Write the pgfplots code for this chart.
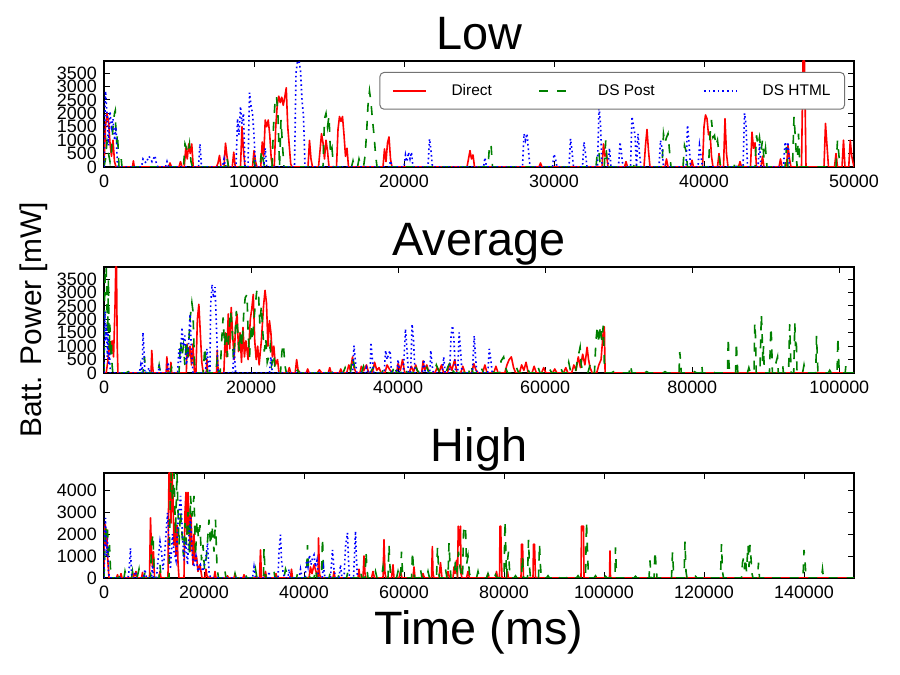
\documentclass[border=0pt]{standalone}
\usepackage{fontspec}
\setmainfont{Liberation Sans}
\usepackage{pgfplots}
\pgfplotsset{compat=1.18}
\definecolor{mplgreen}{rgb}{0,0.5,0}
\pgfplotsset{
  myax/.style={
    scale only axis, width=750bp,
    axis line style={line width=1.3bp},
    tick style={black, line width=1bp},
    major tick length=6bp,
    tick align=inside,
    xtick pos=both, ytick pos=both,
    xticklabel pos=lower, yticklabel pos=left,
    xmin=0, ymin=0,
    scaled ticks=false,
    /pgf/number format/assume math mode=true,
    /pgf/number format/1000 sep={},
    /pgf/number format/fixed,
    ticklabel style={font=\fontsize{18}{18}\selectfont},
    xticklabel style={anchor=base, yshift=-21bp, inner sep=0pt},
    yticklabel style={anchor=east, xshift=-7bp, inner sep=0pt},
    title style={font=\fontsize{47}{47}\selectfont, at={(0.5,1)}, anchor=base, yshift=5.5bp, inner sep=0pt},
    legend image code/.code={\draw[#1] plot coordinates {(0bp,0bp)(33bp,0bp)};},
  },
  red/.style={color=red, line width=1.6bp, solid, line join=round},
  grn/.style={color=mplgreen, line width=1.6bp, dash pattern=on 9bp off 9bp},
  blu/.style={color=blue, line width=1.6bp, dash pattern=on 1.6bp off 3bp},
}
\begin{document}
\begin{tikzpicture}
\useasboundingbox (0,0) rectangle (900bp,675bp);
% ---------------- Low ----------------
\begin{axis}[myax, at={(104bp,508bp)}, anchor=south west, height=106bp,
  title={Low}, xmax=50000, ymax=3950,
  xtick={0,10000,...,50000}, ytick={0,500,...,3500},
  legend columns=3, legend cell align=left,
  legend style={at={(rel axis cs:1,1)}, anchor=north east, xshift=-9bp, yshift=-11bp,
    draw=black!55, rounded corners=4bp, line width=1bp, inner xsep=12bp, inner ysep=10bp,
    font=\fontsize{15.5}{15.5}\selectfont,
    /tikz/every odd column/.append style={column sep=23bp}},
]
\addplot[red] coordinates {(0,0)(100,1500)(200,2000)(300,1700)(400,900)(500,400)(600,1000)(700,200)(800,0)
(1900,0)(1960,230)(2020,0)(4300,0)(4400,150)(4500,0)(5000,0)(5100,200)(5200,0)(5350,0)(5450,700)(5550,300)(5650,860)(5750,500)(5850,860)(5950,0)
(7500,0)(7600,150)(7700,430)(7800,0)(8000,0)(8100,890)(8200,400)(8300,0)(8550,0)(8650,550)(8750,0)
(9100,0)(9200,1500)(9300,600)(9400,0)(9900,0)(10000,610)(10100,200)(10200,0)
(10450,0)(10550,930)(10650,400)(10750,1750)(10850,1500)(10950,1750)(11050,1200)(11150,300)(11250,0)
(11350,0)(11450,1500)(11550,2300)(11650,2640)(11750,2400)(11850,2600)(11950,2300)(12050,2600)(12150,2950)(12250,1500)(12350,800)(12450,100)(12550,0)
(13600,0)(13700,990)(13800,300)(13900,0)(14300,0)(14400,600)(14500,1240)(14600,900)(14700,300)(14800,1000)(14900,600)(15000,0)
(15500,0)(15600,1400)(15700,1880)(15800,1700)(15900,1880)(16000,1200)(16100,400)(16200,700)(16300,0)
(18600,0)(18700,670)(18800,200)(18900,900)(19000,1120)(19100,300)(19200,0)
(24200,0)(24300,300)(24400,610)(24500,300)(24600,450)(24700,0)(29000,0)(29100,150)(29200,0)
(33200,0)(33300,860)(33400,400)(33500,500)(33600,0)(34700,0)(34800,200)(34900,0)
(36000,0)(36100,800)(36200,1400)(36300,600)(36400,0)(37400,0)(37500,300)(37600,0)(39100,0)(39200,250)(39300,0)
(39900,0)(40000,1500)(40100,1940)(40200,1800)(40300,1200)(40400,1300)(40500,400)(40600,0)(40900,0)(41000,500)(41100,0)
(41300,0)(41400,1800)(41500,500)(41600,0)(42300,0)(42400,200)(42500,0)(43100,0)(43200,1300)(43300,700)(43400,900)(43500,0)
(43800,0)(43900,400)(44000,0)(45000,0)(45100,300)(45200,0)(45500,0)(45600,800)(45700,300)(45800,0)
(46500,0)(46600,3950)(46700,3950)(46800,0)(48000,0)(48100,1620)(48200,800)(48300,0)(48700,0)(48800,500)(48900,0)
(49200,0)(49300,1000)(49400,0)(49650,0)(49750,1000)(49850,400)(50000,0)};
\addlegendentry{\makebox[85bp][l]{Direct}}
\addplot[grn] coordinates {(0,0)(100,300)(200,930)(300,500)(400,200)(500,600)(600,1500)(700,2000)(750,2100)(800,1200)(850,900)(900,1240)(950,600)(1000,0)(1100,0)(1150,290)(1200,0)
(5300,0)(5400,860)(5500,700)(5600,500)(5700,860)(5800,200)(5900,0)(8100,0)(8200,350)(8300,0)(9900,0)(10000,230)(10100,0)
(10400,0)(10500,610)(10600,300)(10700,0)(11200,0)(11300,1500)(11400,2400)(11500,2640)(11600,1900)(11700,0)(11800,1750)(11900,800)(12000,0)
(14600,0)(14700,1800)(14800,2000)(14900,1500)(15000,1900)(15100,500)(15200,700)(15300,0)(16500,0)(16600,230)(16700,0)
(16900,0)(17000,300)(17100,100)(17300,0)(17400,400)(17500,1200)(17600,2300)(17700,2830)(17800,2400)(17900,1750)(18000,1200)(18100,500)(18200,0)
(25600,0)(25700,800)(25800,860)(25900,0)(32800,0)(32900,610)(33000,500)(33100,0)(33350,0)(33450,990)(33550,0)(35300,0)(35400,230)(35500,0)
(37200,0)(37300,1240)(37400,900)(37500,1100)(37600,1240)(37700,600)(37800,0)(38600,0)(38700,800)(38800,600)(38900,0)
(40300,0)(40400,1180)(40500,1750)(40600,1100)(40700,1180)(40800,800)(40900,1000)(41000,500)(41100,0)(42000,0)(42100,230)(42200,0)(42600,0)(42700,150)(42800,0)
(43400,0)(43500,1180)(43600,800)(43700,1100)(43800,600)(43900,1000)(44000,300)(44100,700)(44200,0)(45400,0)(45500,750)(45600,0)
(45900,0)(46000,1880)(46100,1000)(46200,0)(46300,1240)(46400,0)(48800,0)(48900,990)(49000,400)(49100,0)};
\addlegendentry{\makebox[103bp][l]{DS Post}}
\addplot[blu] coordinates {(0,0)(50,1500)(100,2830)(200,2000)(300,800)(400,2070)(500,1500)(600,1800)(700,1000)(800,1500)(850,700)(900,0)
(2500,0)(2600,300)(2800,150)(3000,400)(3200,200)(3400,420)(3500,100)(3600,0)(4100,0)(4200,200)(4300,0)(6300,0)(6400,860)(6500,0)(7900,0)(8000,300)(8100,0)
(8800,0)(8900,1800)(9000,1200)(9100,2260)(9200,1600)(9300,2000)(9400,0)(9600,0)(9700,2770)(9800,2300)(9900,2000)(10000,1200)(10100,0)(10650,0)(10750,700)(10850,0)
(12700,0)(12800,3500)(12900,3950)(13000,3950)(13100,3600)(13200,2500)(13300,1900)(13400,0)(19000,0)(19100,230)(19200,0)
(20000,0)(20100,450)(20200,200)(20300,550)(20400,300)(20500,550)(20600,0)(21600,0)(21700,1050)(21800,600)(21900,0)(25300,0)(25400,350)(25500,0)
(27900,0)(28000,1240)(28100,1000)(28200,1240)(28300,600)(28400,0)(29900,0)(30000,480)(30100,300)(30200,0)(31000,0)(31100,1050)(31200,600)(31300,0)
(31900,0)(32000,930)(32100,500)(32200,0)(32900,0)(33000,2260)(33100,1600)(33200,0)(33600,0)(33700,700)(33800,0)(34300,0)(34400,930)(34500,500)(34600,0)
(35100,0)(35200,1880)(35300,1500)(35400,1200)(35500,0)(35600,1240)(35700,500)(35800,0)(37000,0)(37100,990)(37200,700)(37300,0)
(38800,0)(38900,1560)(39000,900)(39100,0)(39600,0)(39700,800)(39800,400)(39900,0)(42600,0)(42700,2000)(42800,1600)(42900,0)
(43600,0)(43700,860)(43800,0)(45300,0)(45400,930)(45500,600)(45600,930)(45700,0)};
\addlegendentry{DS HTML}
\end{axis}
% ---------------- Average ----------------
\begin{axis}[myax, at={(104bp,302bp)}, anchor=south west, height=106bp,
  title={Average}, xmax=102000, ymax=3950,
  xtick={0,20000,...,100000}, ytick={0,500,...,3500},
  ylabel={Batt. Power [mW]},
  ylabel style={font=\fontsize{30}{30}\selectfont, at={(axis description cs:-0.0827,0.5)}, anchor=base, inner sep=0pt},
]
\addplot[red] coordinates {(0,0)(300,0)(500,400)(700,1000)(900,800)(1100,1200)(1300,600)(1500,2500)(1600,3950)(1700,3950)(1800,1000)(1900,0)
(6400,0)(6500,840)(6600,300)(6700,0)(8450,0)(8550,600)(8650,200)(8750,0)(9000,0)(9100,400)(9200,0)
(11200,0)(11300,1080)(11500,600)(11700,1000)(11900,300)(12100,1080)(12300,0)(12500,0)(12700,2000)(12900,2560)(13100,1500)(13300,400)(13500,0)
(13900,0)(14000,500)(14100,0)(15300,0)(15400,850)(15500,200)(15600,0)
(16300,0)(16500,1500)(16700,600)(16900,2200)(17100,900)(17300,2440)(17500,1400)(17700,500)(17900,1800)(18100,2190)(18300,800)(18500,1500)(18700,400)(18900,1700)(19100,600)(19300,1200)(19600,500)(19900,2000)(20100,2400)(20300,2930)(20500,1200)(20700,500)(20900,1000)(21100,300)(21400,1200)(21700,2500)(21900,3080)(22100,2600)(22300,1000)(22500,1950)(22700,1500)(22900,600)(23100,1000)(23300,300)(23600,500)(23800,0)
(25000,0)(25200,200)(25400,0)(26000,0)(26200,500)(26400,100)(26700,0)(27500,0)(27700,150)(27900,0)
(29000,0)(29300,120)(29600,0)(30500,0)(30700,200)(30900,0)(32000,0)(32200,150)(32400,0)(33000,0)(33300,300)(33500,100)(33800,600)(34000,200)(34300,0)(34800,0)(35000,250)(35300,80)(35700,300)(36000,0)(36500,0)(36800,400)(37100,100)(37400,200)(37700,0)(38200,0)(38500,300)(38800,150)(39200,0)(39800,0)(40000,350)(40300,100)(40600,500)(40900,0)(41500,0)(41800,250)(42100,50)(42400,300)(42700,0)(43200,0)(43400,450)(43600,100)(43900,300)(44200,0)(45000,0)(45300,200)(45600,50)(45900,300)(46200,0)(46700,0)(47000,350)(47300,100)(47700,500)(48000,0)(48500,0)(48800,250)(49100,0)(50000,0)(50300,350)(50600,100)(50900,0)(51500,0)(51800,300)(52100,0)(53000,0)(53300,250)(53600,0)(54500,0)(54800,300)(55100,500)(55400,600)(55700,200)(56000,0)(56500,0)(56800,300)(57100,100)(57400,400)(57700,0)(58200,0)(58500,250)(58800,0)(59500,0)(59800,200)(60100,0)(61000,0)(61300,150)(61600,0)(62500,0)(62800,200)(63100,0)(63600,0)(63900,300)(64200,100)(64500,600)(64800,200)(65100,700)(65400,300)(65700,960)(65900,500)(66100,200)(66400,0)(67000,0)(67300,300)(67600,500)(67800,1200)(67950,1720)(68050,1720)(68150,0)(102000,0)};
\addplot[grn] coordinates {(0,0)(100,3000)(200,3950)(300,3950)(400,2500)(500,1500)(600,3500)(700,800)(800,1800)(900,600)(1000,1200)(1100,300)(1200,0)
(3000,0)(3300,50)(3600,0)(5300,0)(5500,600)(5700,0)(7300,0)(7500,300)(7700,0)(9000,0)(9200,200)(9400,0)
(10200,0)(10400,1200)(10600,600)(10800,1000)(11000,300)(11200,1200)(11400,500)(11700,2000)(11950,2620)(12100,2310)(12300,400)(12500,0)
(13500,0)(13700,960)(13900,300)(14100,0)(15200,0)(15400,500)(15600,0)
(15800,0)(16000,1200)(16200,2070)(16400,1000)(16600,1600)(16800,600)(17000,1500)(17200,2310)(17400,1800)(17600,500)(17800,1200)(18000,2310)(18200,1500)(18400,800)(18600,1600)(18800,1000)(19000,2200)(19200,2800)(19450,2930)(19600,1500)(19800,600)(20000,1800)(20200,1200)(20400,2000)(20600,2600)(20800,3110)(21000,3050)(21200,1800)(21400,2500)(21600,1500)(21800,800)(22000,1300)(22200,400)(22400,600)(22600,1000)(22800,300)(23100,700)(23300,0)(24000,0)(24200,800)(24400,1080)(24600,300)(24800,0)
(26000,0)(26300,100)(26600,0)(27500,0)(27800,80)(28100,0)(29500,0)(29800,150)(30100,0)(31000,0)(31300,100)(31600,0)(32500,0)(32800,200)(33100,0)(33500,0)(33800,600)(34100,200)(34400,0)(35000,0)(35300,250)(35600,0)(36200,0)(36500,150)(36800,300)(37100,0)(37800,0)(38100,200)(38400,100)(38700,0)(39200,0)(39500,300)(39800,0)(40400,0)(40700,200)(41000,100)(41300,0)(42000,0)(42300,300)(42600,100)(42900,0)(43600,0)(43900,200)(44200,0)(44900,0)(45200,300)(45500,100)(45800,0)(46500,0)(46800,250)(47100,400)(47400,100)(47700,0)(48300,0)(48600,200)(48900,0)(49600,0)(49900,300)(50200,0)(51000,0)(51300,200)(51600,0)(52400,0)(52700,150)(53000,0)(53800,0)(54000,450)(54350,600)(54600,200)(54900,0)(55800,0)(56100,200)(56400,0)(57300,0)(57600,150)(57900,0)(58700,0)(59000,250)(59300,0)(60300,0)(60600,150)(60900,0)(61800,0)(62100,200)(62400,0)(62900,0)(63200,400)(63500,0)(64100,0)(64400,500)(64750,960)(64900,300)(65200,0)(65800,0)(66100,300)(66400,0)(66700,0)(66900,1200)(67100,1760)(67300,1100)(67500,1760)(67700,1200)(67900,1760)(68050,300)(68200,0)
(69000,0)(69300,50)(69600,0)(71400,0)(71600,300)(71800,0)(73500,0)(73800,50)(74100,0)(76000,0)(76300,50)(76600,0)(78200,0)(78300,780)(78400,500)(78500,0)(80000,0)(80300,50)(80600,0)(81200,0)(81300,300)(81400,0)(82500,0)(82800,50)(83100,0)
(84800,0)(84900,1330)(85000,300)(85100,0)(85900,0)(86000,1140)(86100,500)(86200,0)(87500,0)(87700,200)(87900,0)(88400,0)(88500,1880)(88600,1400)(88700,0)(89200,0)(89400,2190)(89500,1500)(89600,400)(89700,1000)(89800,0)
(90500,0)(90700,1700)(90800,1200)(90900,0)(91300,0)(91400,400)(91600,600)(91700,0)(92200,0)(92300,300)(92400,0)(93100,0)(93250,1820)(93350,900)(93450,0)(93800,0)(93950,1850)(94050,1000)(94150,1300)(94250,0)
(95000,0)(95200,300)(95400,0)(96800,0)(96900,1390)(97000,700)(97100,0)(98500,0)(98700,100)(98900,0)(99700,0)(99800,1330)(99900,600)(100000,0)(100800,0)(100900,300)(101000,0)(102000,0)};
\addplot[blu] coordinates {(0,0)(50,1500)(150,2300)(250,1200)(350,1800)(450,600)(550,1500)(650,300)(750,800)(850,0)
(4800,0)(5000,300)(5200,0)(5300,1510)(5450,800)(5550,0)(5900,0)(6100,200)(6300,0)(7400,0)(7500,300)(7600,0)(8500,0)(8700,400)(8900,0)
(10000,0)(10200,900)(10400,400)(10600,1700)(10800,1000)(11000,1400)(11200,300)(11500,1000)(11700,2190)(11900,800)(12100,0)
(13800,0)(14000,900)(14200,300)(14400,0)(14500,2500)(14700,3300)(14900,2800)(15100,3200)(15300,1700)(15500,0)(17500,0)(17700,900)(17900,0)(22500,0)(22700,600)(22900,0)
(33800,0)(34000,1020)(34200,400)(34400,0)(35500,0)(35700,200)(35900,0)(36200,0)(36300,1140)(36500,500)(36700,0)
(38100,0)(38300,840)(38500,500)(38700,700)(38900,840)(39100,0)(39800,0)(40000,500)(40200,0)
(40700,0)(41000,1640)(41200,900)(41400,0)(41700,0)(41900,1820)(42100,1200)(42300,0)(43300,0)(43500,500)(43700,0)(44300,0)(44450,840)(44600,300)(44800,0)
(46000,0)(46200,600)(46400,0)(47000,0)(47200,1400)(47400,1760)(47600,1200)(47800,0)(48100,0)(48300,1510)(48500,800)(48700,0)
(50100,0)(50350,1390)(50500,700)(50700,0)(52200,0)(52400,900)(52600,500)(52800,0)};
\end{axis}
% ---------------- High ----------------
\begin{axis}[myax, at={(104bp,97bp)}, anchor=south west, height=105bp,
  title={High}, xmax=150000, ymax=4780,
  xtick={0,20000,...,140000}, ytick={0,1000,...,4000},
  xlabel={Time (ms)},
  xlabel style={font=\fontsize{47}{47}\selectfont, at={(axis description cs:0.5,-0.638)}, anchor=base, inner sep=0pt},
]
\addplot[red] coordinates {(0,0)(100,2000)(250,2430)(400,1500)(550,2200)(700,1000)(850,500)(1000,0)
(2500,0)(2700,150)(2900,0)(3200,0)(3400,200)(3600,0)(5800,0)(6000,200)(6200,100)(6400,300)(6600,0)(7500,0)(7700,250)(7900,0)
(9100,0)(9300,2740)(9500,1200)(9700,500)(9900,1200)(10100,0)(11000,0)(11200,300)(11400,0)
(12800,0)(12900,3000)(13000,4780)(13200,4780)(13400,2500)(13600,4780)(13800,3660)(14000,1500)(14200,2500)(14400,1000)(14600,2400)(14800,700)(15000,0)
(16000,0)(16200,3000)(16400,3900)(16600,2000)(16800,3900)(17000,2800)(17200,1200)(17400,2900)(17600,1500)(17800,600)(18000,2000)(18200,800)(18500,1000)(18800,300)(19200,600)(19600,0)
(20200,0)(20400,400)(20600,100)(21000,0)(22000,0)(22200,300)(22400,0)(24500,0)(24700,100)(24900,0)(26000,0)(26200,200)(26400,0)(27800,0)(28000,150)(28200,0)
(31100,0)(31300,1280)(31500,0)(32000,0)(32300,300)(32500,0)(34200,0)(34400,200)(34600,0)(37300,0)(37500,400)(37700,0)
(41000,0)(41300,500)(41600,200)(42000,600)(42400,300)(42800,0)(42900,1820)(43100,200)(43300,0)(45800,0)(46000,300)(46200,0)
(50800,0)(51000,400)(51200,0)(51800,0)(52000,1000)(52200,200)(52400,0)(53500,0)(53800,300)(54100,0)(55800,0)(56000,1740)(56200,200)(56400,0)(57500,0)(57800,600)(58000,0)(59000,0)(59300,300)(59600,0)(61800,0)(62000,500)(62200,0)(63500,0)(63800,200)(64100,0)
(65500,0)(65670,1430)(65800,200)(66000,0)(67000,0)(67300,700)(67600,0)(68500,0)(68800,300)(69100,0)(69800,0)(70000,500)(70200,200)(70500,800)(70700,0)(70850,2360)(71100,1500)(71300,2360)(71400,200)(71600,0)(72500,0)(72800,300)(73100,0)
(76500,0)(76800,200)(77000,0)(78300,0)(78500,300)(78700,0)(79100,0)(79200,2360)(79350,2360)(79450,1120)(79600,0)(80500,0)(80700,300)(80900,0)
(83400,0)(83500,1540)(83600,800)(83700,1540)(83900,0)(85800,0)(85900,1540)(86000,800)(86100,1540)(86300,0)
(95400,0)(95500,2360)(95700,2360)(95900,2360)(96000,0)(101100,0)(101200,1230)(101300,0)(150000,0)};
\addplot[grn] coordinates {(0,0)(100,800)(300,2360)(500,1800)(700,2200)(900,1000)(1100,1500)(1300,400)(1500,0)
(3000,0)(3200,200)(3400,0)(4000,0)(4200,300)(4400,100)(4700,0)(5500,0)(5700,300)(5900,0)(6600,0)(6800,200)(7000,400)(7200,0)(8000,0)(8200,300)(8400,0)
(9300,0)(9500,1500)(9800,2000)(10000,400)(10200,0)(11000,0)(11200,600)(11400,0)
(13000,0)(13200,3000)(13400,4780)(13700,3500)(14000,4780)(14300,2000)(14600,4780)(14800,3050)(15000,1500)(15300,3050)(15600,2000)(15900,1000)(16200,2500)(16500,1500)(16800,3000)(17100,1000)(17300,3740)(17600,2800)(18000,3740)(18300,1000)(18600,2600)(18900,1800)(19200,2400)(19500,800)(19800,1500)(20100,400)(20500,1000)(21000,2660)(21300,1500)(21600,2400)(22000,1200)(22300,2660)(22600,500)(22900,0)
(24000,0)(24200,300)(24400,0)(26000,0)(26200,200)(26400,0)(28000,0)(28300,150)(28600,0)(30000,0)(30300,400)(30600,0)(31900,0)(32000,1360)(32200,300)(32400,0)(33800,0)(34000,300)(34200,0)
(36000,0)(36300,400)(36600,200)(37000,0)(38500,0)(38800,300)(39100,0)(40500,0)(40700,1500)(40900,300)(41200,0)(42000,0)(42300,400)(42600,0)(43500,0)(43700,1820)(43900,300)(44100,0)
(45000,0)(45300,300)(45600,0)(46800,0)(47000,200)(47200,0)(48500,0)(48800,300)(49100,0)(51000,0)(51300,300)(51600,0)(52200,0)(52400,1200)(52600,400)(52800,0)(54000,0)(54300,300)(54600,0)
(55500,0)(55800,500)(56100,0)(56800,0)(57000,1510)(57200,500)(57400,0)(58500,0)(58800,300)(59100,0)(59300,0)(59500,1200)(59700,300)(60000,0)(61500,0)(61700,1200)(61900,400)(62100,0)
(63000,0)(63300,400)(63600,0)(64500,0)(64800,300)(65100,0)(66500,0)(66700,1400)(66900,500)(67100,0)(68000,0)(68300,400)(68600,0)(68800,0)(69000,1590)(69200,600)(69400,0)
(70000,0)(70300,800)(70600,300)(70900,1200)(71200,500)(71500,0)(71700,0)(71900,2000)(72000,2360)(72300,2360)(72500,600)(72800,1000)(73100,200)(73400,0)(74500,0)(74800,300)(75100,0)(76500,0)(76800,200)(77100,0)(78000,0)(78300,150)(78600,0)
(80000,0)(80200,2590)(80400,1000)(80500,0)(80700,800)(80900,1200)(81100,400)(81300,0)(82000,0)(82300,100)(82600,0)(83500,0)(83700,1000)(83900,0)(84700,0)(84900,1740)(85100,500)(85300,0)(86900,0)(87100,1540)(87300,500)(87500,0)
(88500,0)(88800,100)(89100,0)(90500,0)(90800,100)(91100,0)(92500,0)(92800,80)(93100,0)(94500,0)(94800,100)(95100,0)(96300,0)(96500,2560)(96700,1200)(96900,0)(98000,0)(98300,100)(98600,0)
(100000,0)(100300,80)(100600,0)(102200,0)(102300,1390)(102400,800)(102500,0)(104000,0)(104300,80)(104600,0)(106000,0)(106300,80)(106600,0)(108000,0)(108300,80)(108600,0)(109000,0)(109200,800)(109400,0)
(110000,0)(110200,1230)(110400,600)(110600,0)(113500,0)(113700,1170)(113900,300)(114100,0)(116000,0)(116200,1660)(116400,300)(116600,0)(118000,0)(118300,80)(118600,0)(120500,0)(120800,80)(121100,0)
(123300,0)(123500,1540)(123700,300)(123900,0)(125500,0)(125800,80)(126100,0)(127500,0)(127700,700)(127900,900)(128100,400)(128300,900)(128500,300)(128800,1510)(129000,500)(129200,1510)(129400,900)(129600,200)(129800,0)
(130700,0)(130900,700)(131100,0)(133000,0)(133300,80)(133600,0)(139800,0)(140000,1280)(140200,800)(140400,0)(143500,0)(143700,400)(143900,0)(150000,0)};
\addplot[blu] coordinates {(0,0)(100,1500)(300,2740)(500,1000)(700,1800)(900,300)(1100,0)
(4800,0)(5000,300)(5300,1360)(5500,200)(5700,0)(6000,0)(6300,300)(6500,0)(7900,0)(8200,400)(8500,0)
(9500,0)(9700,600)(9900,0)(10500,0)(10800,800)(11200,1660)(11500,1200)(11800,400)(12100,1000)(12400,2000)(12700,2970)(13000,1500)(13300,400)(13700,2000)(14000,1200)(14400,800)(14800,2500)(15300,3740)(15700,2000)(16000,800)(16300,1700)(16700,600)(17000,2000)(17300,2740)(17600,1200)(18000,500)(18400,1000)(18800,300)(19300,600)(19800,300)(20300,800)(20700,1590)(21000,300)(21300,0)
(29700,0)(30000,500)(30300,0)(32800,0)(33000,300)(33200,0)(34800,0)(35000,1200)(35300,1970)(35500,800)(35800,300)(36100,0)(36800,0)(37000,400)(37200,0)
(39000,0)(39300,400)(39600,0)(40200,0)(40500,800)(40800,500)(41100,1050)(41400,600)(41700,900)(42000,1050)(42300,500)(42600,800)(42900,0)(43600,0)(43900,500)(44200,0)
(45300,0)(45700,1280)(46000,400)(46300,0)(47000,0)(47300,600)(47600,0)(48000,0)(48300,1430)(48700,2050)(48900,800)(49100,0)(49900,0)(50300,2130)(50500,800)(50700,0)};
\end{axis}
\end{tikzpicture}
\end{document}
